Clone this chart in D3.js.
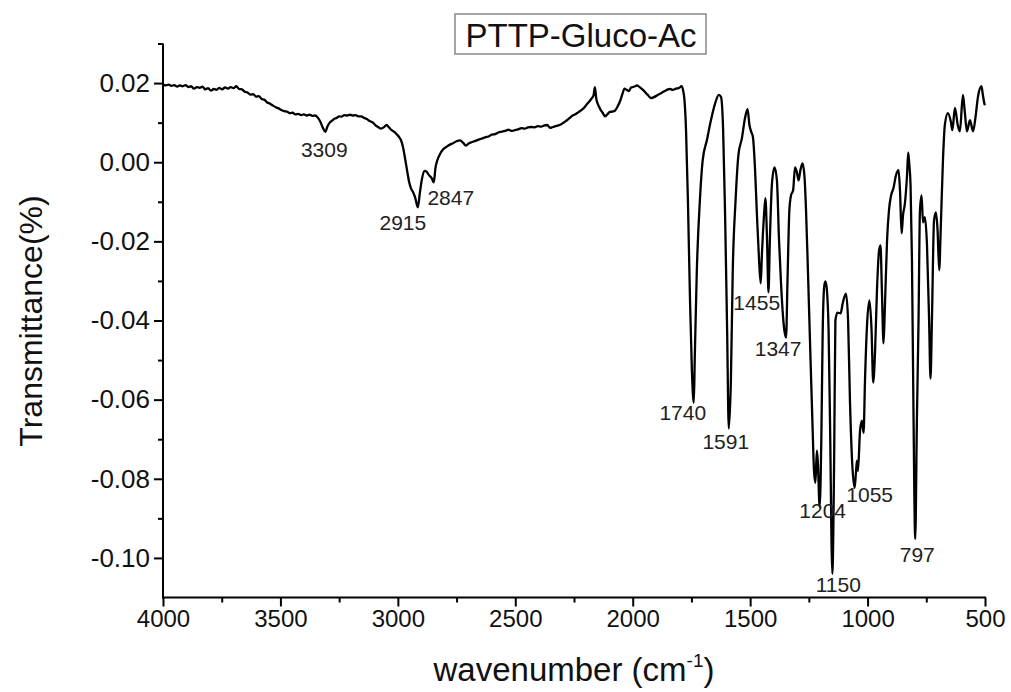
<!DOCTYPE html>
<html>
<head>
<meta charset="utf-8">
<script src="https://cdn.jsdelivr.net/npm/d3@7"></script>
<style>
  html, body { margin: 0; padding: 0; background: #fff; }
  svg { display: block; font-family: "Liberation Sans", Arial, sans-serif; }
</style>
</head>
<body>
<svg id="chart" width="1011" height="692"></svg>
<script>
// FTIR spectrum of PTTP-Gluco-Ac: [wavenumber (cm-1), transmittance]
const spectrum = [
  [4000,0.0196],[3988,0.0194],[3976,0.0196],[3964,0.0193],[3952,0.0195],[3940,0.0191],[3928,0.0194],[3916,0.0192],
  [3904,0.0195],[3892,0.0190],[3880,0.0192],[3868,0.0186],[3856,0.0190],[3844,0.0188],[3832,0.0191],[3820,0.0184],
  [3808,0.0187],[3796,0.0181],[3784,0.0185],[3772,0.0183],[3760,0.0188],[3748,0.0184],[3736,0.0189],[3724,0.0186],
  [3712,0.0190],[3700,0.0187],[3688,0.0192],[3676,0.0185],[3664,0.0184],[3652,0.0178],[3640,0.0176],[3628,0.0171],
  [3616,0.0172],[3604,0.0166],[3592,0.0167],[3580,0.0160],[3568,0.0158],[3556,0.0151],[3544,0.0148],[3532,0.0143],
  [3520,0.0139],[3508,0.0136],[3496,0.0132],[3484,0.0129],[3472,0.0128],[3460,0.0124],[3448,0.0125],[3436,0.0121],
  [3424,0.0122],[3412,0.0119],[3400,0.0121],[3388,0.0118],[3376,0.0120],[3364,0.0117],[3352,0.0118],[3340,0.0112],
  [3330,0.0102],[3320,0.0088],[3309,0.0077],[3300,0.0090],[3290,0.0100],[3280,0.0105],[3270,0.0110],[3260,0.0112],
  [3250,0.0116],[3240,0.0115],[3228,0.0119],[3216,0.0118],[3204,0.0120],[3192,0.0118],[3180,0.0119],[3168,0.0116],
  [3156,0.0116],[3144,0.0112],[3132,0.0109],[3120,0.0104],[3108,0.0101],[3096,0.0094],[3084,0.0089],[3072,0.0085],
  [3060,0.0088],[3048,0.0094],[3038,0.0088],[3026,0.0081],[3014,0.0076],[3004,0.0070],[2995,0.0064],[2987,0.0056],
  [2978,0.0038],[2970,0.0012],[2961,-0.0020],[2952,-0.0050],[2944,-0.0066],[2935,-0.0076],[2926,-0.0090],[2915,-0.0114],
  [2906,-0.0076],[2897,-0.0041],[2886,-0.0022],[2878,-0.0024],[2867,-0.0033],[2856,-0.0040],[2847,-0.0051],[2840,-0.0015],
  [2832,0.0005],[2821,0.0020],[2808,0.0032],[2795,0.0038],[2780,0.0044],[2765,0.0048],[2750,0.0053],[2735,0.0055],
  [2722,0.0049],[2710,0.0042],[2697,0.0048],[2684,0.0051],[2670,0.0054],[2656,0.0057],[2642,0.0060],[2628,0.0063],
  [2614,0.0065],[2600,0.0070],[2586,0.0071],[2572,0.0075],[2558,0.0077],[2544,0.0079],[2530,0.0082],[2516,0.0079],
  [2502,0.0081],[2488,0.0083],[2474,0.0086],[2460,0.0085],[2446,0.0088],[2432,0.0089],[2418,0.0088],[2404,0.0091],
  [2390,0.0090],[2376,0.0093],[2364,0.0094],[2352,0.0087],[2340,0.0089],[2328,0.0091],[2316,0.0093],[2304,0.0096],
  [2292,0.0101],[2280,0.0106],[2268,0.0112],[2256,0.0118],[2244,0.0121],[2232,0.0126],[2220,0.0131],[2208,0.0137],
  [2196,0.0146],[2184,0.0154],[2174,0.0162],[2167,0.0168],[2161,0.0190],[2155,0.0160],[2147,0.0145],[2138,0.0134],
  [2128,0.0125],[2118,0.0116],[2108,0.0121],[2097,0.0127],[2086,0.0128],[2076,0.0130],[2065,0.0140],[2054,0.0154],
  [2044,0.0172],[2035,0.0186],[2026,0.0183],[2016,0.0180],[2008,0.0188],[1999,0.0190],[1990,0.0192],[1982,0.0194],
  [1973,0.0191],[1965,0.0187],[1955,0.0182],[1944,0.0175],[1933,0.0168],[1922,0.0162],[1912,0.0164],[1901,0.0167],
  [1890,0.0171],[1880,0.0174],[1870,0.0178],[1860,0.0181],[1850,0.0184],[1841,0.0185],[1830,0.0183],[1816,0.0186],
  [1804,0.0187],[1792,0.0192],[1782,0.0170],
  [1773,0.0081],[1765,-0.0096],[1756,-0.0349],[1748,-0.0527],[1740,-0.0608],[1736,-0.0501],[1727,-0.0273],[1714,-0.0096],
  [1702,0.0005],[1684,0.0056],[1667,0.0106],[1650,0.0147],[1633,0.0170],[1624,0.0165],[1615,0.0081],[1607,-0.0122],
  [1598,-0.0425],[1591,-0.0673],[1582,-0.0552],[1574,-0.0273],[1562,-0.0096],[1550,0.0018],[1535,0.0061],[1522,0.0111],
  [1511,0.0134],[1503,0.0094],[1496,0.0078],[1488,0.0063],[1479,-0.0020],[1471,-0.0134],[1462,-0.0248],[1455,-0.0306],
  [1450,-0.0235],[1441,-0.0134],[1435,-0.0091],[1428,-0.0197],[1422,-0.0329],[1416,-0.0197],[1407,-0.0053],[1396,-0.0013],
  [1386,-0.0046],[1377,-0.0197],[1369,-0.0300],[1360,-0.0390],[1353,-0.0430],[1347,-0.0443],[1341,-0.0300],[1333,-0.0122],
  [1326,-0.0084],[1317,-0.0071],[1309,-0.0013],[1301,-0.0025],[1294,-0.0046],[1286,-0.0020],[1277,-0.0003],[1269,-0.0033],
  [1262,-0.0122],[1254,-0.0273],[1244,-0.0476],[1235,-0.0653],[1228,-0.0780],[1222,-0.0810],[1216,-0.0729],[1212,-0.0755],
  [1204,-0.0871],[1197,-0.0704],[1191,-0.0425],[1184,-0.0311],[1179,-0.0301],[1173,-0.0324],[1166,-0.0425],[1160,-0.0653],
  [1150,-0.1040],[1142,-0.0729],[1137,-0.0400],[1128,-0.0380],[1115,-0.0382],[1105,-0.0354],[1092,-0.0332],[1083,-0.0400],
  [1075,-0.0603],[1066,-0.0754],[1055,-0.0823],[1049,-0.0780],[1045,-0.0754],[1041,-0.0780],[1032,-0.0678],[1024,-0.0653],
  [1017,-0.0684],[1011,-0.0552],[1002,-0.0408],[992,-0.0349],[983,-0.0425],[976,-0.0557],[968,-0.0476],[960,-0.0324],
  [951,-0.0223],[945,-0.0210],[939,-0.0324],[932,-0.0458],[926,-0.0362],[917,-0.0197],[909,-0.0122],[900,-0.0084],
  [890,-0.0066],[879,-0.0033],[868,-0.0020],[862,-0.0071],[855,-0.0180],[849,-0.0134],[841,-0.0104],[832,-0.0033],
  [827,0.0025],[822,-0.0008],[817,-0.0058],[811,-0.0248],[805,-0.0603],[797,-0.0952],[790,-0.0653],[783,-0.0400],
  [777,-0.0122],[770,-0.0084],[764,-0.0152],[756,-0.0139],[747,-0.0210],[738,-0.0400],[732,-0.0547],[726,-0.0400],
  [717,-0.0147],[709,-0.0127],[702,-0.0172],[695,-0.0273],[688,-0.0159],[679,0.0005],[671,0.0094],[658,0.0124],
  [645,0.0101],[639,0.0081],[628,0.0137],[616,0.0094],[607,0.0078],[594,0.0170],[586,0.0127],[577,0.0078],
  [564,0.0106],[551,0.0078],[541,0.0111],[530,0.0165],[515,0.0192],[509,0.0170],[502,0.0147],[500,0.0144]
];

// Annotated absorption bands (cm-1)
const peaks = [3309, 2915, 2847, 1740, 1591, 1455, 1347, 1204, 1150, 1055, 797];

// Axis ticks
const xMajorTicks = [4000, 3500, 3000, 2500, 2000, 1500, 1000, 500];
const xMinorTicks = [3750, 3250, 2750, 2250, 1750, 1250, 750];
const yMajorTicks = [0.02, 0.00, -0.02, -0.04, -0.06, -0.08, -0.10];
const yMinorTicks = [0.03, 0.01, -0.01, -0.03, -0.05, -0.07, -0.09];

const title = "PTTP-Gluco-Ac";
const yTitle = "Transmittance(%)";

// ---- layout ----
const plot = { left: 163, right: 985, top: 43.5, bottom: 597.5 };
const svg = d3.select("#chart");
const FONT = "'Liberation Sans', Arial, sans-serif";

const x = d3.scaleLinear().domain([4000, 500]).range([plot.left, plot.right]);
const y = d3.scaleLinear().domain([-0.11, 0.03]).range([plot.bottom, plot.top]);

// label placement relative to each band minimum: [dx, dy]
const labelOffset = {
  3309: [-1, 25], 2915: [-15, 23], 2847: [17, 23], 1740: [-11, 17], 1591: [-3, 20],
  1455: [-4, 27], 1347: [-8, 18], 1204: [3, 11], 1150: [6, 18], 1055: [15, 14], 797: [2, 23]
};

// ---- axes ----
const axisG = svg.append("g").attr("stroke", "#000").attr("stroke-width", 2).attr("fill", "none");
axisG.append("line").attr("x1", plot.left).attr("x2", plot.left).attr("y1", plot.top).attr("y2", plot.bottom + 1);
axisG.append("line").attr("x1", plot.left - 1).attr("x2", plot.right + 1).attr("y1", plot.bottom).attr("y2", plot.bottom);

const fmtY = d => d.toFixed(2);
const xAxisMajor = d3.axisBottom(x).tickValues(xMajorTicks).tickSize(9).tickSizeOuter(0).tickPadding(3).tickFormat(d3.format("d"));
const xAxisMinor = d3.axisBottom(x).tickValues(xMinorTicks).tickSize(5).tickSizeOuter(0).tickFormat("");
const yAxisMajor = d3.axisLeft(y).tickValues(yMajorTicks).tickSize(9).tickSizeOuter(0).tickPadding(4).tickFormat(fmtY);
const yAxisMinor = d3.axisLeft(y).tickValues(yMinorTicks).tickSize(5).tickSizeOuter(0).tickFormat("");

function styleAxis(size) {
  return g => {
    g.select(".domain").remove();
    g.selectAll(".tick line").attr("stroke", "#000").attr("stroke-width", 2);
    g.selectAll(".tick text").attr("fill", "#111").attr("font-size", size).attr("font-family", FONT);
  };
}

svg.append("g").attr("transform", `translate(0,${plot.bottom})`).call(xAxisMajor).call(styleAxis(24));
svg.append("g").attr("transform", `translate(0,${plot.bottom})`).call(xAxisMinor).call(styleAxis(24));
svg.append("g").attr("transform", `translate(${plot.left},0)`).call(yAxisMajor).call(styleAxis(26));
svg.append("g").attr("transform", `translate(${plot.left},0)`).call(yAxisMinor).call(styleAxis(26));

// ---- spectrum ----
const line = d3.line()
  .x(d => x(d[0]))
  .y(d => y(d[1]))
  .curve(d3.curveMonotoneX);

svg.append("path")
  .datum(spectrum)
  .attr("fill", "none")
  .attr("stroke", "#000")
  .attr("stroke-width", 2.3)
  .attr("stroke-linejoin", "round")
  .attr("d", line);

// ---- band labels ----
const valueAt = new Map(spectrum.map(d => [d[0], d[1]]));
svg.append("g")
  .selectAll("text")
  .data(peaks)
  .join("text")
  .attr("x", d => x(d) + labelOffset[d][0])
  .attr("y", d => y(valueAt.get(d)) + labelOffset[d][1])
  .attr("text-anchor", "middle")
  .attr("font-size", 21)
  .attr("fill", "#222")
  .text(d => d);

// ---- title box ----
const titleG = svg.append("g");
titleG.append("rect")
  .attr("x", 455).attr("y", 14).attr("width", 251).attr("height", 40)
  .attr("fill", "#fff").attr("stroke", "#888").attr("stroke-width", 1.5);
titleG.append("text")
  .attr("x", 581).attr("y", 46.5)
  .attr("text-anchor", "middle")
  .attr("font-size", 33)
  .attr("fill", "#111")
  .text(title);

// ---- axis titles ----
const xTitle = svg.append("text")
  .attr("x", 574).attr("y", 681)
  .attr("text-anchor", "middle")
  .attr("font-size", 33)
  .attr("fill", "#111");
xTitle.append("tspan").text("wavenumber (cm");
xTitle.append("tspan").attr("font-size", 19).attr("dy", -14).text("-1");
xTitle.append("tspan").attr("dy", 14).text(")");

svg.append("text")
  .attr("transform", "translate(42,321) rotate(-90)")
  .attr("text-anchor", "middle")
  .attr("font-size", 32)
  .attr("fill", "#111")
  .text(yTitle);
</script>
</body>
</html>
